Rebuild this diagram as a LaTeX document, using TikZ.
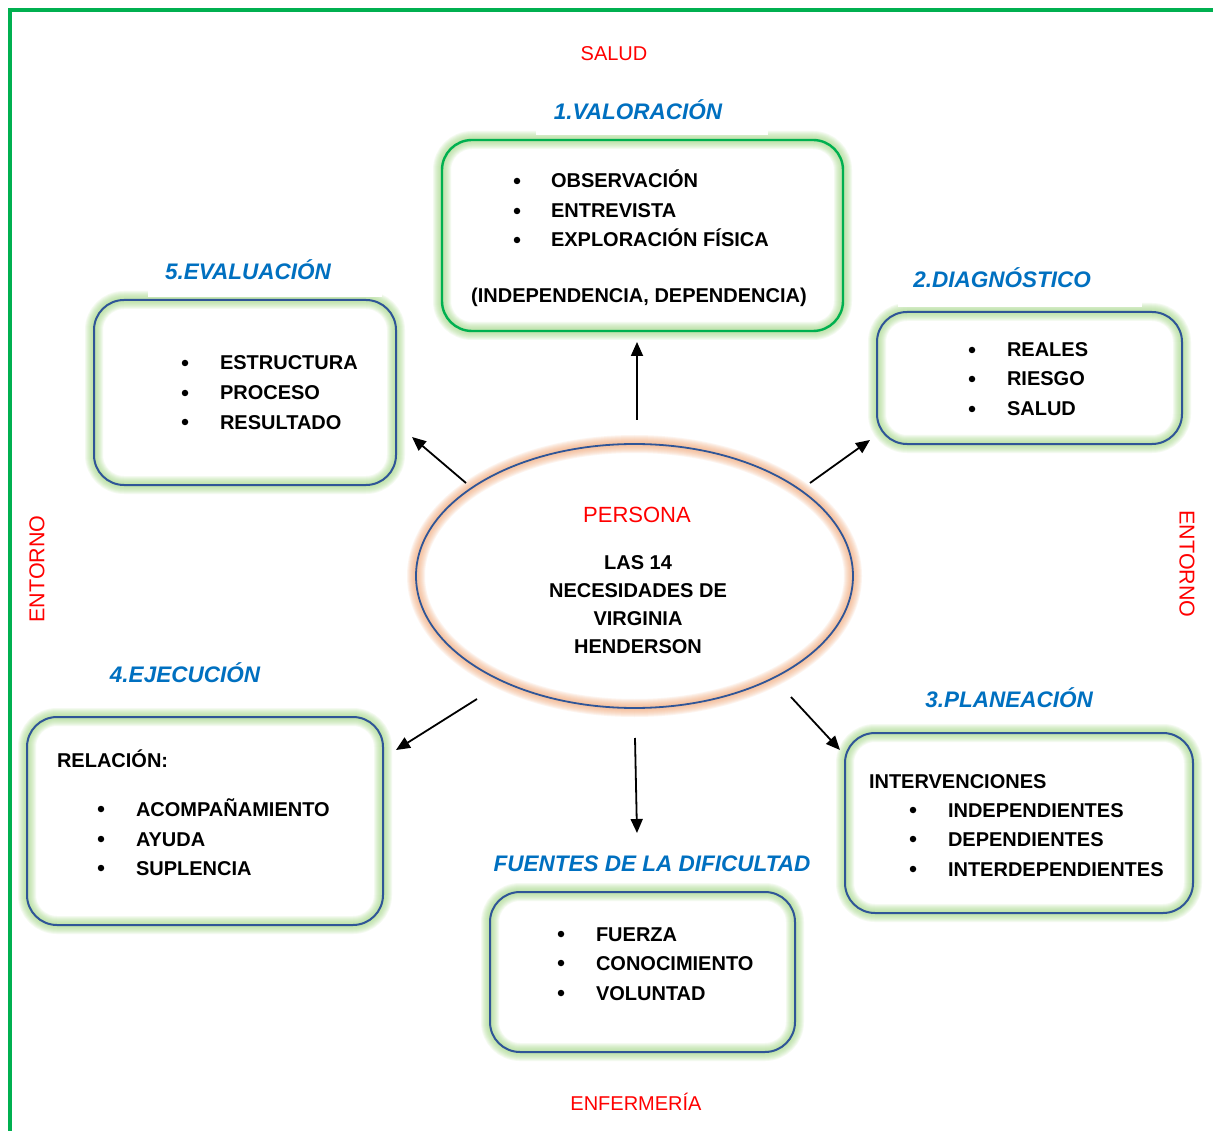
\documentclass[tikz,border=0pt]{standalone}
\usepackage{fontspec}
\setmainfont{Liberation Sans}
\usetikzlibrary{arrows.meta,shapes.geometric}
\definecolor{framegreen}{HTML}{00B050}
\definecolor{boxblue}{HTML}{2F5597}
\definecolor{titleblue}{HTML}{0070C0}
\definecolor{glowgreen}{HTML}{9FD67E}
\definecolor{gloworange}{HTML}{F4A97A}
\definecolor{labelred}{HTML}{FF0000}

\pgfdeclarelayer{paper}
\pgfdeclarelayer{halo}
\pgfsetlayers{paper,halo,main}

\newcommand\itemsize{\fontsize{20}{24}\selectfont}
\newcommand\titlesize{\fontsize{22.5}{26}\selectfont}

\begin{document}
\begin{tikzpicture}[x=1pt,y=-1pt,
  every node/.style={inner sep=0pt, outer sep=0pt},
  frame/.style={draw=framegreen, line width=3.5},
  stagebox/.style={rectangle, rounded corners=30, draw=boxblue, line width=2},
  firstbox/.style={stagebox, draw=framegreen, line width=2.4},
  stagetitle/.style={anchor=base, text=titleblue, font=\titlesize\bfseries\itshape},
  entry/.style={anchor=base west, font=\itemsize\bfseries},
  centred/.style={anchor=base, font=\itemsize\bfseries},
  dot/.style={circle, fill=black, minimum size=6.5},
  redlabel/.style={text=labelred, font=\itemsize},
  arrow/.style={draw=black, line width=1.8, -{Triangle[length=14,width=12]}},
  glow/.style={line width=#1, opacity=0.11, rounded corners=30}
]
\useasboundingbox (0,0) rectangle (1213,1131);
\begin{pgfonlayer}{paper}
  \fill[white] (0,0) rectangle (1213,1131);
\end{pgfonlayer}

% page frame (top and left edges)
\draw[frame] (10,1140) -- (10,10) -- (1220,10);

% ---------- boxes ----------
\node[firstbox, minimum width=401, minimum height=191] (valbox) at (642.5,235.5) {};
\node[stagebox, minimum width=305, minimum height=132] (diabox) at (1029.5,378) {};
\node[stagebox, minimum width=302, minimum height=185] (evabox) at (245,392.5) {};
\node[stagebox, minimum width=356, minimum height=208] (ejebox) at (205,821) {};
\node[stagebox, minimum width=348, minimum height=180] (plabox) at (1019,823) {};
\node[stagebox, minimum width=305, minimum height=160] (fuebox) at (642.5,972) {};

% central ellipse
\node[ellipse, draw=boxblue, line width=1.8, minimum width=437, minimum height=264] (persona) at (634.5,576) {};

% soft glows behind the shapes
\begin{pgfonlayer}{halo}
  \foreach \b in {valbox,diabox,evabox,ejebox,plabox,fuebox}{
    \foreach \w in {18,16,14,12,10,8,6,4}{
      \draw[glowgreen, glow=\w] (\b.north west) rectangle (\b.south east);
    }
  }
  \foreach \w in {18,16,14,12,10,8,6,4}{
    \draw[gloworange, line width=\w, opacity=0.12]
      (persona.center) ellipse [x radius=218.5, y radius=132];
  }
  % white bands behind the upper titles
  \fill[white] (536,92) rectangle (768,135);
  \fill[white] (898,260) rectangle (1142,307);
  \fill[white] (148,252) rectangle (382,297);
\end{pgfonlayer}

% ---------- titles ----------
\node[stagetitle] (valtitle) at (638,120) {1.VALORACIÓN};
\node[stagetitle] (diatitle) at (1002,288) {2.DIAGNÓSTICO};
\node[stagetitle] (evatitle) at (248,280) {5.EVALUACIÓN};
\node[stagetitle] (ejetitle) at (185,682) {4.EJECUCIÓN};
\node[stagetitle] (platitle) at (1009,707) {3.PLANEACIÓN};
\node[stagetitle] (fuetitle) at (652,871) {FUENTES DE LA DIFICULTAD};

% ---------- 1. valoración ----------
\node[dot] (v1d) at (517,181) {};
\node[dot] (v2d) at (517,211) {};
\node[dot] (v3d) at (517,240) {};
\node[entry] (v1) at (551,188) {OBSERVACIÓN};
\node[entry] (v2) at (551,218) {ENTREVISTA};
\node[entry] (v3) at (551,247) {EXPLORACIÓN FÍSICA};
\node[centred] (v4) at (639,303) {(INDEPENDENCIA, DEPENDENCIA)};

% ---------- 2. diagnóstico ----------
\node[dot] (d1d) at (972,350) {};
\node[dot] (d2d) at (972,379) {};
\node[dot] (d3d) at (972,409) {};
\node[entry] (d1) at (1007,357) {REALES};
\node[entry] (d2) at (1007,386) {RIESGO};
\node[entry] (d3) at (1007,416) {SALUD};

% ---------- 5. evaluación ----------
\node[dot] (e1d) at (185,363) {};
\node[dot] (e2d) at (185,393) {};
\node[dot] (e3d) at (185,422) {};
\node[entry] (e1) at (220,370) {ESTRUCTURA};
\node[entry] (e2) at (220,400) {PROCESO};
\node[entry] (e3) at (220,429) {RESULTADO};

% ---------- 4. ejecución ----------
\node[entry] (j0) at (57,767) {RELACIÓN:};
\node[dot] (j1d) at (101,809) {};
\node[dot] (j2d) at (101,839) {};
\node[dot] (j3d) at (101,868) {};
\node[entry] (j1) at (136,816) {ACOMPAÑAMIENTO};
\node[entry] (j2) at (136,846) {AYUDA};
\node[entry] (j3) at (136,875) {SUPLENCIA};

% ---------- 3. planeación ----------
\node[entry] (p0) at (869,788) {INTERVENCIONES};
\node[dot] (p1d) at (913,810) {};
\node[dot] (p2d) at (913,839) {};
\node[dot] (p3d) at (913,869) {};
\node[entry] (p1) at (948,817) {INDEPENDIENTES};
\node[entry] (p2) at (948,846) {DEPENDIENTES};
\node[entry] (p3) at (948,876) {INTERDEPENDIENTES};

% ---------- fuentes de la dificultad ----------
\node[dot] (f1d) at (561,934) {};
\node[dot] (f2d) at (561,963) {};
\node[dot] (f3d) at (561,993) {};
\node[entry] (f1) at (596,941) {FUERZA};
\node[entry] (f2) at (596,970) {CONOCIMIENTO};
\node[entry] (f3) at (596,1000) {VOLUNTAD};

% ---------- centre text ----------
\node[redlabel, anchor=base, font=\fontsize{22}{26}\selectfont] (pers) at (637,522) {PERSONA};
\node[centred] (c1) at (638,569) {LAS 14};
\node[centred] (c2) at (638,597) {NECESIDADES DE};
\node[centred] (c3) at (638,625) {VIRGINIA};
\node[centred] (c4) at (638,653) {HENDERSON};

% ---------- metaparadigm labels ----------
\node[redlabel, anchor=base] (salud) at (614,61) {SALUD};
\node[redlabel, anchor=base] (enfer) at (636,1110) {ENFERMERÍA};
\node[redlabel, rotate=90, font=\fontsize{21.5}{24}\selectfont] (entl) at (37,569) {ENTORNO};
\node[redlabel, rotate=-90, font=\fontsize{21.5}{24}\selectfont] (entr) at (1187,564) {ENTORNO};

% ---------- arrows from the centre ----------
\coordinate (aUs) at (637,420);  \coordinate (aUe) at (637,342);
\coordinate (aURs) at (810,483); \coordinate (aURe) at (870,440);
\coordinate (aULs) at (466,483); \coordinate (aULe) at (412,437);
\coordinate (aDLs) at (477,699); \coordinate (aDLe) at (396,750);
\coordinate (aDs) at (635,738);  \coordinate (aDe) at (637,833);
\coordinate (aDRs) at (791,697); \coordinate (aDRe) at (840,750);
\draw[arrow] (aUs) -- (aUe);
\draw[arrow] (aURs) -- (aURe);
\draw[arrow] (aULs) -- (aULe);
\draw[arrow] (aDLs) -- (aDLe);
\draw[arrow] (aDs) -- (aDe);
\draw[arrow] (aDRs) -- (aDRe);
\end{tikzpicture}
\end{document}
